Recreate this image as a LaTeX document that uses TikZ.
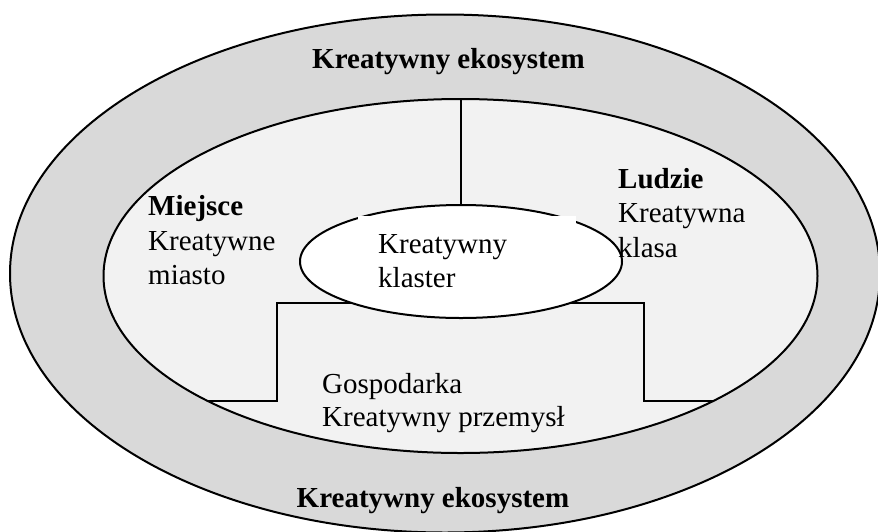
\documentclass[tikz,border=0pt]{standalone}
\usepackage{fontspec}
\setmainfont{Liberation Serif}
\usetikzlibrary{shapes.geometric}
\definecolor{ringgray}{RGB}{217,217,217}
\definecolor{innergray}{RGB}{242,242,242}
\begin{document}
\begin{tikzpicture}[x=1pt,y=-1pt,
  ring/.style={ellipse, draw=black, line width=2pt, inner sep=0pt, outer sep=0pt},
  txt/.style={anchor=base west, inner sep=0pt, font=\fontsize{29}{34}\selectfont},
  bld/.style={anchor=base west, inner sep=0pt, font=\fontsize{29}{34}\selectfont\bfseries},
  ttl/.style={anchor=base, inner sep=0pt, font=\fontsize{29}{34}\selectfont\bfseries},
  conn/.style={line width=2pt}]
\useasboundingbox (0,0) rectangle (878,531);
\clip (0,0) rectangle (878,531);
% rings
\node[ring, fill=ringgray, minimum width=870pt, minimum height=518pt] (outer) at (445,273.5) {};
\node[ring, fill=innergray, minimum width=714pt, minimum height=354pt] (inner) at (460.5,276) {};
% step line (economy sector)
\coordinate (gl) at (207.2,401);
\coordinate (gr) at (712.8,401);
\coordinate (gtl) at (277,303);
\coordinate (gtr) at (644,303);
\draw[conn] (gl) -| (gtl) -- (gtr) |- (gr);
% centre
\node[ring, fill=white, minimum width=322pt, minimum height=113pt] (klaster) at (461,261.5) {};
\draw[conn] (inner.north) -- (inner.north |- klaster.north);
\node[fill=white, inner sep=0pt, minimum width=218pt, minimum height=82pt, anchor=north west] (kbox) at (358,216) {};
\node[txt] (k1) at (378,253) {Kreatywny};
\node[txt] (k2) at (378,287) {klaster};
% titles
\node[ttl] (eco1) at (448.5,68) {Kreatywny ekosystem};
\node[ttl] (eco2) at (433,507) {Kreatywny ekosystem};
% sectors
\node[bld] (m1) at (148,215) {Miejsce};
\node[txt] (m2) at (148,250) {Kreatywne};
\node[txt] (m3) at (148,284) {miasto};
\node[bld] (l1) at (618,188) {Ludzie};
\node[txt] (l2) at (618,222) {Kreatywna};
\node[txt] (l3) at (618,257) {klasa};
\node[txt] (g1) at (322,393) {Gospodarka};
\node[txt] (g2) at (322,426) {Kreatywny przemysł};
\end{tikzpicture}
\end{document}
